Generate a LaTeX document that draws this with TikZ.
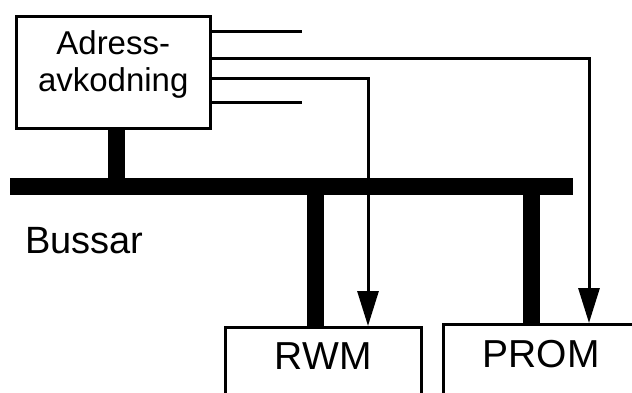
\documentclass[tikz,border=0pt]{standalone}
\usepackage{fontspec}
\setmainfont{Liberation Sans}
\usetikzlibrary{arrows.meta}

\begin{document}
\begin{tikzpicture}[x=1pt,y=-1pt,
    krets/.style={draw,line width=2.5pt,inner sep=0pt,anchor=north west},
    buss/.style={line width=17pt},
    signal/.style={line width=3pt},
    pil/.style={signal,-{Triangle[length=35pt,width=21pt]}}]
\useasboundingbox (0,0) rectangle (632,392);
\clip (0,0) rectangle (632,392);
\node[krets,text width=194pt,align=center,text height=38pt,text depth=74pt,font=\fontsize{33pt}{37pt}\selectfont] (dek) at (15,15) {Adress-\\avkodning};
\node[krets,minimum width=196pt,text height=42pt,text depth=40pt,font=\fontsize{39pt}{40pt}\selectfont] (rwm) at (224,326) {RWM};
\node[krets,minimum width=196pt,text height=43pt,text depth=40pt,font=\fontsize{39pt}{40pt}\selectfont] (prom) at (442,323) {PROM};
\node[anchor=base west,inner sep=0pt,font=\fontsize{38pt}{40pt}\selectfont] (bussar) at (25,253) {Bussar};
\coordinate (bv) at (10,186.5);
\coordinate (bh) at (573,186.5);
\coordinate (ba) at (116.5,186.5);
\coordinate (br) at (315,186.5);
\coordinate (bp) at (531,186.5);
\draw[buss] (bv) -- (bh);
\draw[buss] (ba |- dek.south) -- (ba);
\draw[buss] (br) -- (br |- rwm.north);
\draw[buss] (bp) -- (bp |- prom.north);
\coordinate (s1) at (302,31);
\coordinate (s2) at (589,58);
\coordinate (s3) at (368,78);
\coordinate (s4) at (302,102);
\draw[signal] (s1 -| dek.east) -- (s1);
\draw[signal] (s4 -| dek.east) -- (s4);
\draw[pil] (s2 -| dek.east) -- (s2) -- (s2 |- prom.north);
\draw[pil] (s3 -| dek.east) -- (s3) -- (s3 |- rwm.north);
\end{tikzpicture}
\end{document}
